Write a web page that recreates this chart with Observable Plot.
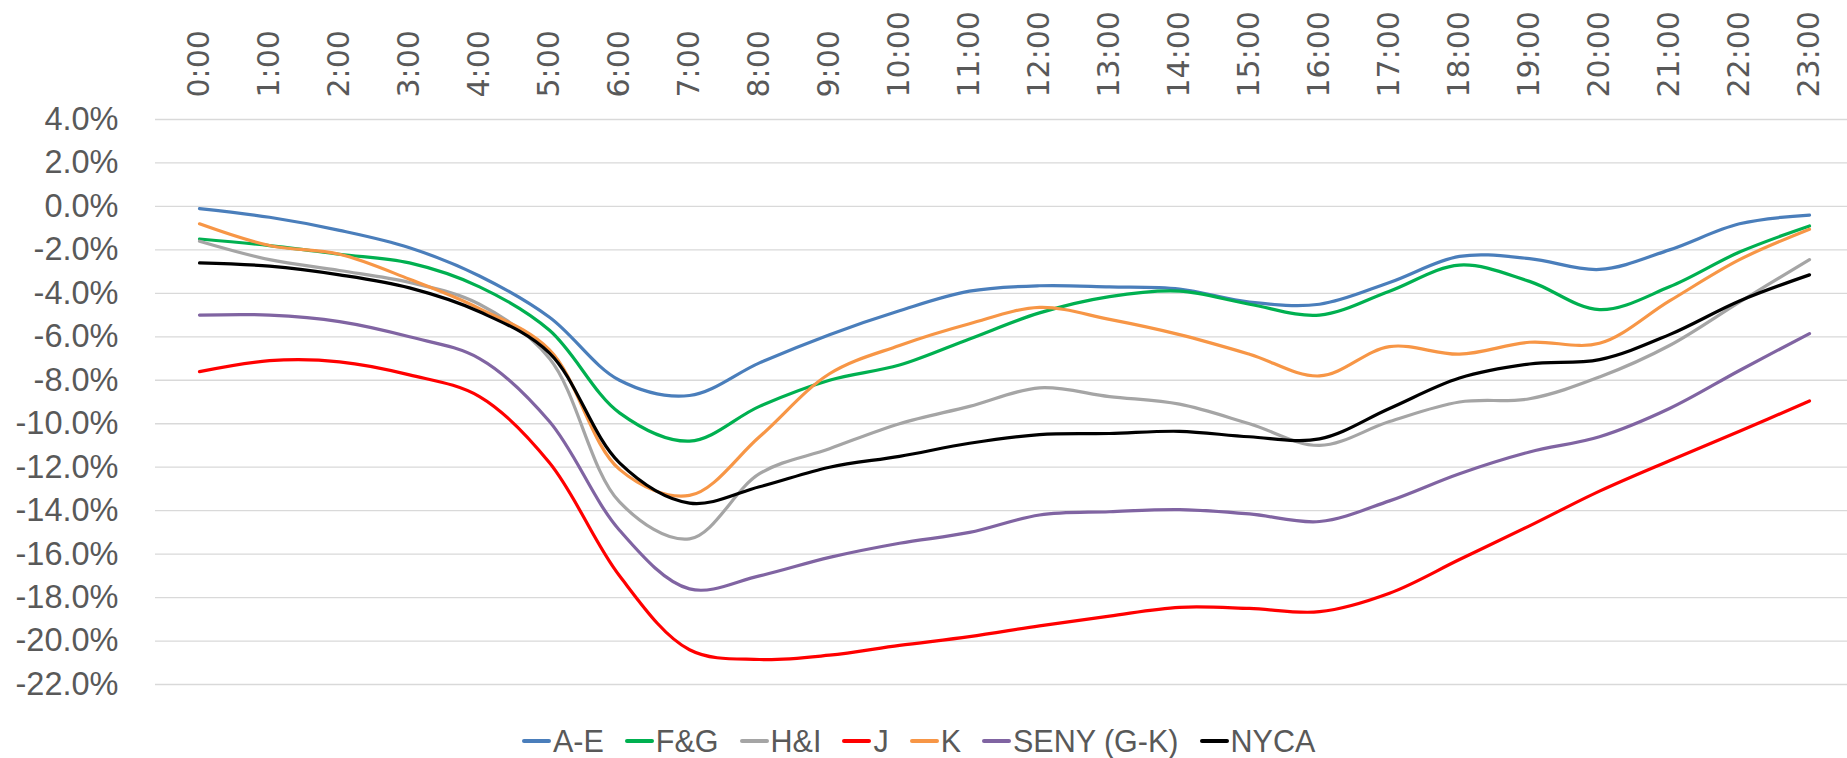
<!DOCTYPE html>
<html><head><meta charset="utf-8">
<script src="https://cdn.jsdelivr.net/npm/d3@7"></script>
<script src="https://cdn.jsdelivr.net/npm/@observablehq/plot@0.6"></script>
<style>
html,body{margin:0;padding:0;background:#fff;overflow:hidden;}
#chart{width:1847px;height:758px;position:relative;}
#chart svg{display:block;overflow:visible;}
.legend{position:absolute;left:522px;top:723px;display:flex;align-items:center;font-family:"Liberation Sans",Arial,sans-serif;font-size:30.5px;line-height:36px;color:#595959;white-space:nowrap;}
.item{display:flex;align-items:center;margin-right:21px;}
.sw{width:29px;height:4px;margin-right:2px;border-radius:2px;}
</style></head><body><div id="chart"></div>
<script>
const hours = ["0:00","1:00","2:00","3:00","4:00","5:00","6:00","7:00","8:00","9:00","10:00","11:00","12:00","13:00","14:00","15:00","16:00","17:00","18:00","19:00","20:00","21:00","22:00","23:00"];
const seriesNames = ["A-E","F&G","H&I","J","K","SENY (G-K)","NYCA"];
const seriesColors = ["#4A7EBB","#00B050","#A5A5A5","#FF0000","#F79646","#8064A2","#000000"];
const yTicks = [4,2,0,-2,-4,-6,-8,-10,-12,-14,-16,-18,-20,-22];

const valuesAE   = [-0.1,-0.5,-1.1,-1.9,-3.2,-5.1,-8.0,-8.7,-7.2,-5.9,-4.8,-3.9,-3.65,-3.7,-3.8,-4.4,-4.5,-3.5,-2.3,-2.4,-2.9,-2.0,-0.8,-0.4];
const valuesFG   = [-1.5,-1.8,-2.2,-2.6,-3.7,-5.7,-9.5,-10.8,-9.2,-8.0,-7.3,-6.1,-4.9,-4.15,-3.9,-4.5,-5.0,-3.9,-2.7,-3.45,-4.75,-3.7,-2.1,-0.9];
const valuesHI   = [-1.6,-2.45,-2.95,-3.5,-4.5,-7.0,-13.6,-15.3,-12.3,-11.15,-10.0,-9.2,-8.35,-8.75,-9.1,-10.0,-11.0,-9.9,-9.0,-8.85,-7.85,-6.4,-4.4,-2.45];
const valuesJ    = [-7.6,-7.1,-7.15,-7.75,-8.75,-11.8,-17.0,-20.4,-20.85,-20.65,-20.2,-19.8,-19.3,-18.85,-18.45,-18.5,-18.65,-17.8,-16.25,-14.7,-13.1,-11.7,-10.35,-8.95];
const valuesK    = [-0.8,-1.8,-2.2,-3.35,-4.7,-6.6,-12.1,-13.3,-10.6,-7.7,-6.4,-5.4,-4.65,-5.2,-5.9,-6.8,-7.8,-6.45,-6.8,-6.25,-6.3,-4.35,-2.45,-1.05];
const valuesSENY = [-5.0,-5.0,-5.3,-6.0,-7.0,-9.9,-14.9,-17.6,-17.0,-16.15,-15.5,-15.0,-14.2,-14.05,-13.95,-14.15,-14.5,-13.55,-12.3,-11.3,-10.6,-9.3,-7.55,-5.85];
const valuesNYCA = [-2.6,-2.75,-3.15,-3.75,-4.85,-6.75,-11.8,-13.65,-12.9,-12.0,-11.5,-10.9,-10.5,-10.45,-10.35,-10.6,-10.7,-9.3,-7.9,-7.25,-7.05,-5.9,-4.35,-3.15];

const valuesList = [valuesAE, valuesFG, valuesHI, valuesJ, valuesK, valuesSENY, valuesNYCA];
const data = [];
seriesNames.forEach((s, k) => valuesList[k].forEach((v, i) => data.push({series: s, hour: hours[i], value: v})));

const plot = Plot.plot({
  width: 1847, height: 700,
  marginTop: 119, marginBottom: 16, marginLeft: 155, marginRight: 0,
  x: {type: "point", domain: hours, range: [190, 1818], padding: 0},
  y: {domain: [-22, 4]},
  color: {domain: seriesNames, range: seriesColors},
  marks: [
    Plot.ruleY(yTicks, {stroke: "#d9d9d9", strokeWidth: 1.3}),
    Plot.axisY({ticks: yTicks, tickFormat: d => d.toFixed(1) + "%", tickSize: 0, tickPadding: 37,
      fontSize: 32.5, fontFamily: "Liberation Sans", color: "#595959", label: null}),
    Plot.axisX({anchor: "top", tickRotate: -90, tickSize: 0, tickPadding: 22,
      fontSize: 30, fontFamily: "DejaVu Sans", color: "#595959", label: null}),
    Plot.line(data, {x: "hour", y: "value", z: "series", stroke: "series", strokeWidth: 3.2, curve: "catmull-rom"})
  ]
});
const chart = document.getElementById("chart");
chart.appendChild(plot);

const legend = document.createElement("div");
legend.className = "legend";
seriesNames.forEach((s, k) => {
  const it = document.createElement("div");
  it.className = "item";
  const sw = document.createElement("span");
  sw.className = "sw";
  sw.style.background = seriesColors[k];
  const tx = document.createElement("span");
  tx.textContent = s;
  it.appendChild(sw); it.appendChild(tx);
  legend.appendChild(it);
});
chart.appendChild(legend);
</script></body></html>
